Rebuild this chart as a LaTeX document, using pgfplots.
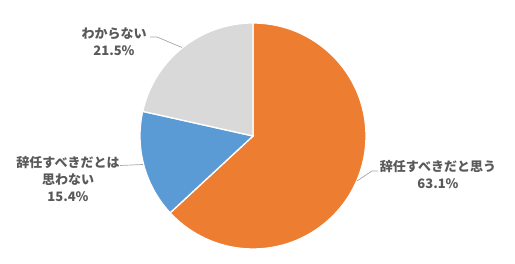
\documentclass[border=0pt]{standalone}
\usepackage{pgfplots}
\pgfplotsset{compat=1.18}
\usepackage{pgfplotstable}
\usepackage{fontspec}
\setmainfont{Noto Sans CJK JP}
\definecolor{sOrange}{HTML}{ED7D31}
\definecolor{sBlue}{HTML}{5B9BD5}
\definecolor{sGray}{HTML}{D9D9D9}
\definecolor{txt}{HTML}{595959}
\definecolor{lead}{HTML}{A6A6A6}
\pgfplotstableread{
label value
A 63.1
B 15.4
C 21.5
}\piedata
\pgfplotstablegetelem{0}{value}\of\piedata\let\vA\pgfplotsretval
\pgfplotstablegetelem{1}{value}\of\piedata\let\vB\pgfplotsretval
\pgfplotstablegetelem{2}{value}\of\piedata\let\vC\pgfplotsretval
\pgfmathsetmacro{\tot}{\vA+\vB+\vC}
\pgfmathsetmacro{\aA}{90}
\pgfmathsetmacro{\aB}{\aA-3.6*(\vA/\tot)*100}
\pgfmathsetmacro{\aC}{\aB-3.6*(\vB/\tot)*100}
\pgfmathsetmacro{\aD}{\aC-3.6*(\vC/\tot)*100}
\begin{document}
\begin{tikzpicture}
\begin{axis}[
  at={(0,0)}, anchor=south west,
  scale only axis, width=515pt, height=264pt,
  xmin=0, xmax=515, ymin=0, ymax=264,
  hide axis, clip=false,
]
\fill[sOrange, draw=white, line width=1.3pt] (axis cs:253,128) -- ++(\aA:113pt) arc[start angle=\aA, end angle=\aB, radius=113pt] -- cycle;
\fill[sBlue, draw=white, line width=1.3pt] (axis cs:253,128) -- ++(\aB:113pt) arc[start angle=\aB, end angle=\aC, radius=113pt] -- cycle;
\fill[sGray, draw=white, line width=1.3pt] (axis cs:253,128) -- ++(\aC:113pt) arc[start angle=\aC, end angle=\aD, radius=113pt] -- cycle;
% leader lines
\draw[lead, line width=0.7pt] (axis cs:150,227) -- (axis cs:157,227) -- (axis cs:182,216.5);
\draw[lead, line width=0.7pt] (axis cs:120,98.5) -- (axis cs:143,99.5);
\draw[lead, line width=0.7pt] (axis cs:357,83) -- (axis cs:372,93) -- (axis cs:378,93);
% labels
\begin{scope}[every node/.style={text=txt, font=\bfseries\fontsize{13}{17}\selectfont, align=center, inner sep=0pt}]
\node at (axis cs:114,222.5) {わからない\\21.5\%};
\node at (axis cs:68,85) {辞任すべきだとは\\思わない\\15.4\%};
\node at (axis cs:438,89.5) {辞任すべきだと思う\\63.1\%};
\end{scope}
\end{axis}
\pgfresetboundingbox
\path[use as bounding box] (0,0) rectangle (515pt,264pt);
\end{tikzpicture}
\end{document}
